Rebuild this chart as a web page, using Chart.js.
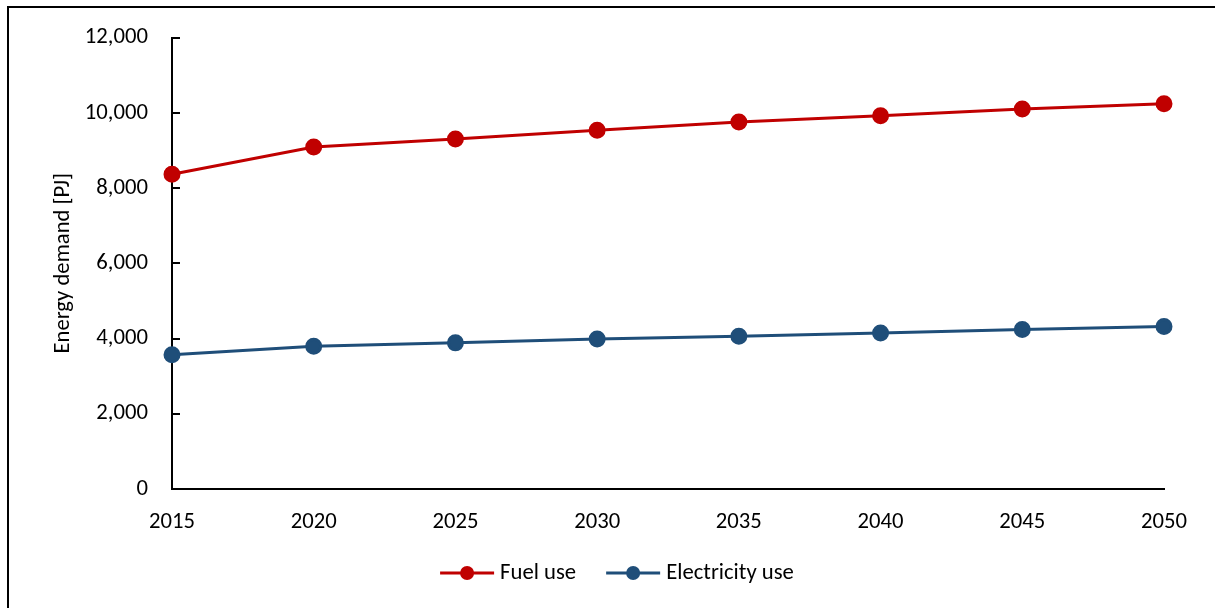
<!DOCTYPE html>
<html>
<head>
<meta charset="utf-8">
<script src="https://cdn.jsdelivr.net/npm/chart.js@4/dist/chart.umd.min.js"></script>
<style>
  html, body { margin: 0; padding: 0; background: #fff; }
  #wrap { width: 1215px; height: 608px; position: relative; }
</style>
</head>
<body>
<div id="wrap"><canvas id="myChart"></canvas></div>
<script>
var years = ["2015", "2020", "2025", "2030", "2035", "2040", "2045", "2050"];
var fuelUse = [8370, 9090, 9305, 9535, 9755, 9925, 10100, 10240];
var electricityUse = [3570, 3795, 3885, 3990, 4060, 4150, 4240, 4320];
var yTicks = [0, 2000, 4000, 6000, 8000, 10000, 12000];

var fontFamily = "Carlito, Calibri, 'Liberation Sans', sans-serif";
var fontSize = 22.7;

// inward y ticks, frame on top/left, and the legend at the bottom
var extras = {
  id: "extras",
  afterDraw: function (chart) {
    var ctx = chart.ctx;
    var y = chart.scales.y;
    var x0 = chart.chartArea.left;
    ctx.save();
    ctx.strokeStyle = "#000";
    ctx.lineWidth = 2;
    yTicks.forEach(function (v) {
      var py = Math.round(y.getPixelForValue(v));
      ctx.beginPath();
      ctx.moveTo(x0, py);
      ctx.lineTo(x0 + 8, py);
      ctx.stroke();
    });
    ctx.beginPath();
    ctx.moveTo(8, 608);
    ctx.lineTo(8, 7);
    ctx.lineTo(1215, 7);
    ctx.stroke();

    // legend
    ctx.font = fontSize + "px " + fontFamily;
    ctx.textBaseline = "middle";
    ctx.textAlign = "left";
    var symW = 54, gapText = 6, gapItem = 30;
    var items = chart.data.datasets.map(function (ds) {
      return { text: ds.label, color: ds.borderColor, w: ctx.measureText(ds.label).width };
    });
    var total = 0;
    items.forEach(function (it, i) {
      total += symW + gapText + it.w + (i < items.length - 1 ? gapItem : 0);
    });
    var lx = 617 - total / 2;
    var ly = 573;
    items.forEach(function (it) {
      ctx.strokeStyle = it.color;
      ctx.fillStyle = it.color;
      ctx.lineWidth = 3;
      ctx.beginPath();
      ctx.moveTo(lx, ly);
      ctx.lineTo(lx + symW, ly);
      ctx.stroke();
      ctx.beginPath();
      ctx.arc(lx + symW / 2, ly, 7, 0, Math.PI * 2);
      ctx.fill();
      ctx.fillStyle = "#000";
      ctx.fillText(it.text, lx + symW + gapText, ly);
      lx += symW + gapText + it.w + gapItem;
    });
    ctx.restore();
  },
};

var ctx = document.getElementById("myChart").getContext("2d");
var myChart = new Chart(ctx, {
  type: "line",
  data: {
    labels: years,
    datasets: [
      {
        label: "Fuel use",
        data: fuelUse,
        borderColor: "#C00000",
        backgroundColor: "#C00000",
        pointBackgroundColor: "#C00000",
        pointBorderColor: "#C00000",
        borderWidth: 3,
        pointRadius: 7,
        pointHoverRadius: 7,
        tension: 0,
      },
      {
        label: "Electricity use",
        data: electricityUse,
        borderColor: "#1F4E79",
        backgroundColor: "#1F4E79",
        pointBackgroundColor: "#1F4E79",
        pointBorderColor: "#1F4E79",
        borderWidth: 3,
        pointRadius: 7,
        pointHoverRadius: 7,
        tension: 0,
      },
    ],
  },
  options: {
    responsive: true,
    maintainAspectRatio: false,
    animation: false,
    events: [],
    layout: { padding: { left: 0, right: 51, top: 36, bottom: 57 } },
    plugins: {
      tooltip: { enabled: false },
      legend: { display: false },
    },
    scales: {
      x: {
        offset: false,
        grid: { display: false, drawTicks: false },
        border: { display: true, color: "#000", width: 2 },
        ticks: {
          color: "#000",
          padding: 20,
          maxRotation: 0,
          font: { family: fontFamily, size: fontSize },
        },
        afterFit: function (scale) {
          scale.height = 62;
        },
      },
      y: {
        min: 0,
        max: 12000,
        afterBuildTicks: function (scale) {
          scale.ticks = yTicks.map(function (v) {
            return { value: v };
          });
        },
        grid: { display: false, drawTicks: false },
        border: { display: true, color: "#000", width: 2 },
        ticks: {
          color: "#000",
          padding: 24,
          font: { family: fontFamily, size: fontSize },
          callback: function (v) {
            return Number(v).toLocaleString("en-US");
          },
        },
        title: {
          display: true,
          text: "Energy demand [PJ]",
          color: "#000",
          padding: { top: 50, bottom: 0 },
          font: { family: fontFamily, size: fontSize },
        },
        afterFit: function (scale) {
          scale.width = 172;
        },
      },
    },
  },
  plugins: [extras],
});
</script>
</body>
</html>
